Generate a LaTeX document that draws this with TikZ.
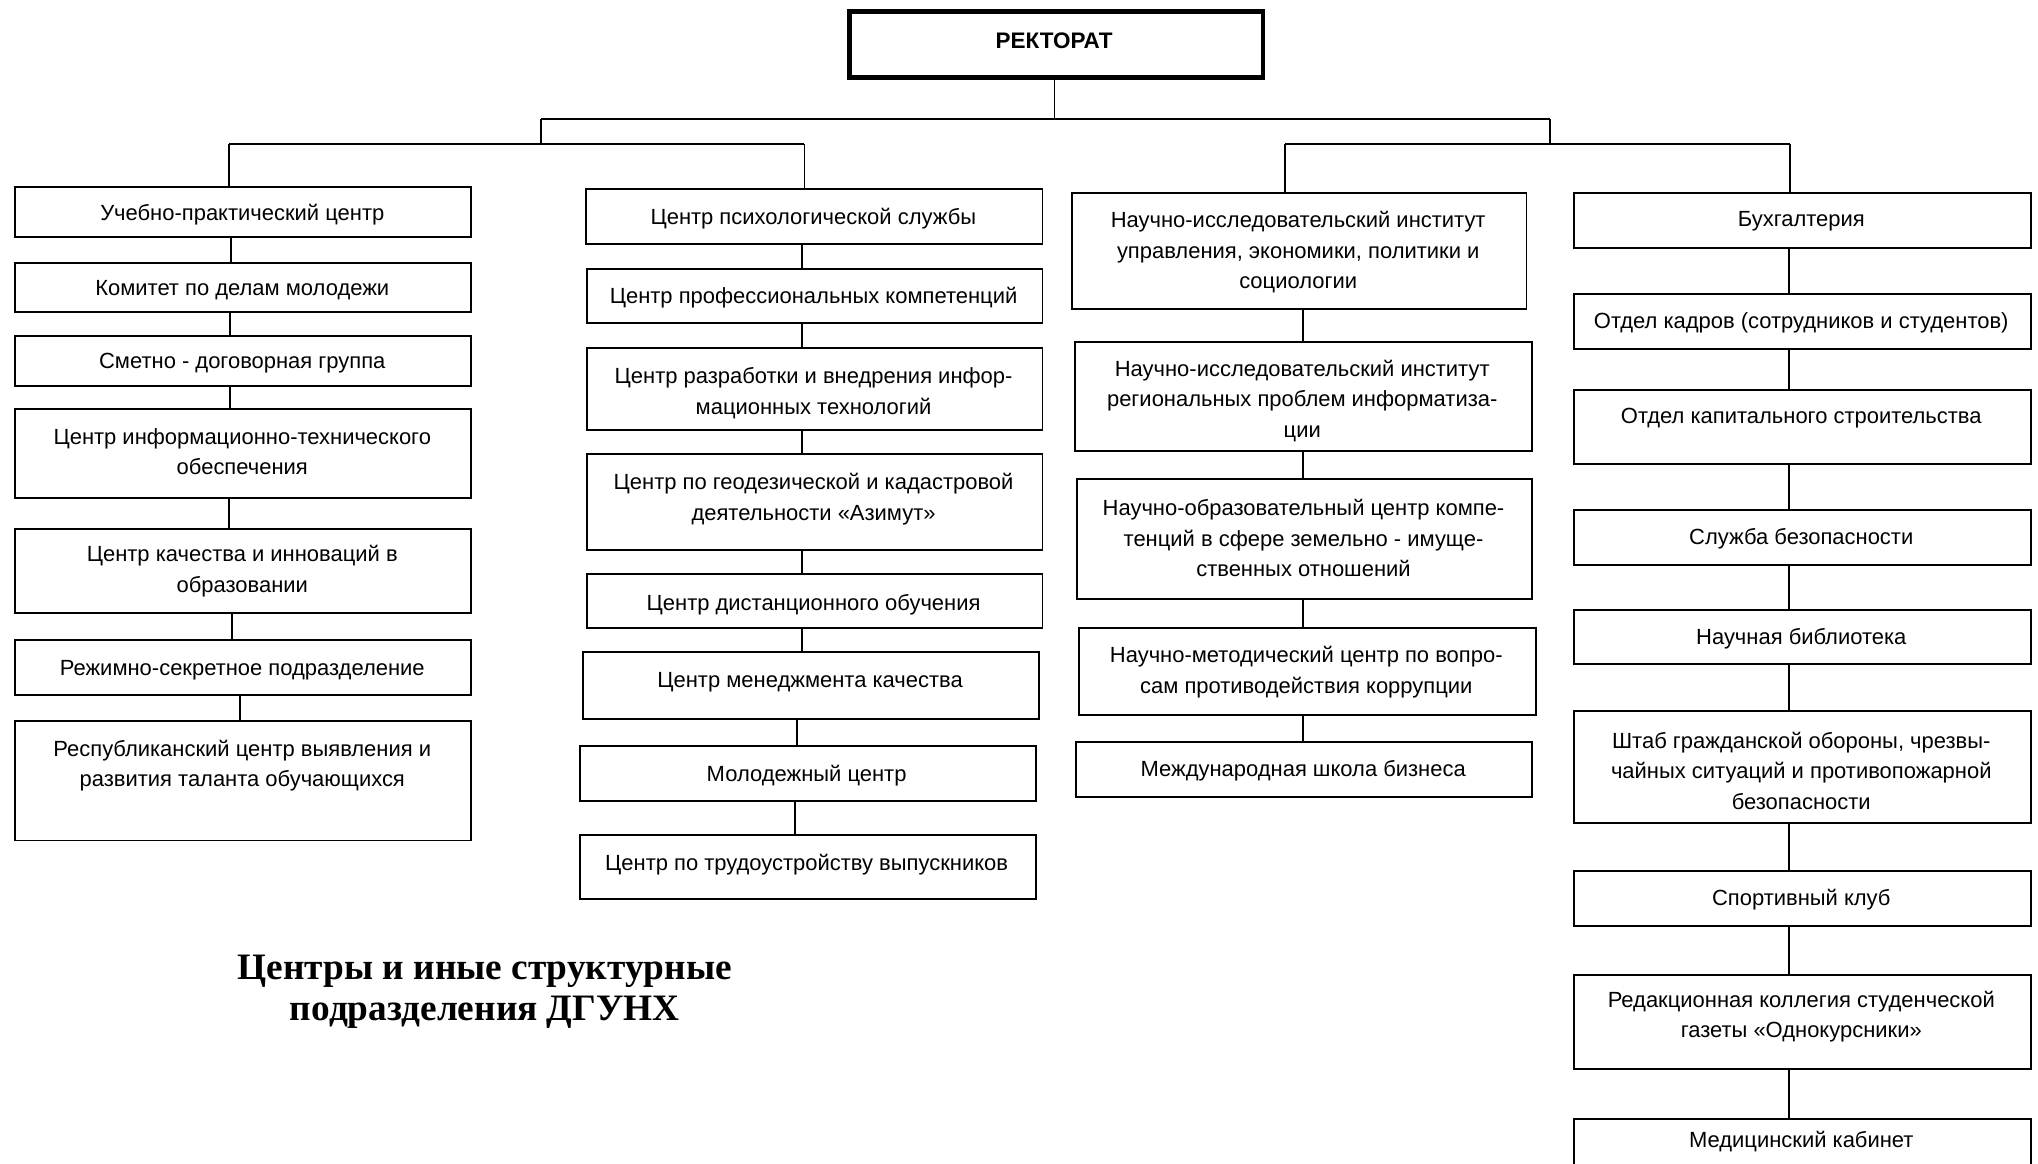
\documentclass[tikz,border=0pt]{standalone}
\usepackage{fontspec}
\setmainfont{Liberation Sans}
\newfontfamily\titlefont{Liberation Serif}
\tikzset{
  ubx/.style={draw, line width=1.5pt, inner sep=0pt, fill=white},
  rekbx/.style={draw, line width=3.5pt, inner sep=0pt},
  utx/.style={align=center, inner sep=0pt, font=\fontsize{16.9}{23.5}\selectfont},
  conn/.style={line width=1.5pt},
  thinconn/.style={line width=0.9pt}
}
% name, x1, y1, x2, y2, text y, text
\newcommand\orgbox[7]{%
  \node[ubx, anchor=north west, minimum width={(#4-#2)*1pt}, minimum height={(#5-#3)*1pt}] (#1) at (#2,#3) {};
  \node[utx] (#1t) at ({(#2+#4)/2},{#6+2}) {#7};
}
\begin{document}
\begin{tikzpicture}[x=1pt,y=-1pt]
\clip (0,0) rectangle (1568,895);
\fill[white] (0,0) rectangle (1568,895);

% Rectorate
\node[rekbx, anchor=north west, minimum width=318pt, minimum height=51pt] (rek) at (652,7) {};
\node[font=\fontsize{17.3}{20}\selectfont\bfseries, inner sep=0pt] (rekt) at (811,31) {РЕКТОРАТ};

% Column 1
\orgbox{a1}{11}{142.8}{361.8}{181.3}{163}{Учебно-практический центр}
\orgbox{a2}{11}{201.3}{361.8}{239.6}{221}{Комитет по делам молодежи}
\orgbox{a3}{11}{257.8}{361.8}{296.2}{277.5}{Сметно - договорная группа}
\orgbox{a4}{11}{314}{361.8}{382.3}{345.5}{Центр информационно-технического\\обеспечения}
\orgbox{a5}{11}{405.9}{361.8}{470.7}{437.5}{Центр качества и инноваций в\\образовании}
\orgbox{a6}{11}{491.9}{361.8}{534}{513.5}{Режимно-секретное подразделение}
\orgbox{a7}{11}{553.7}{361.8}{645.9}{587}{Республиканский центр выявления и\\развития таланта обучающихся}

% Column 2
\orgbox{b1}{450.2}{144.9}{801.3}{187.2}{166.5}{Центр психологической службы}
\orgbox{b2}{450.6}{205.9}{801.3}{247.8}{227}{Центр профессиональных компетенций}
\orgbox{b3}{450.6}{267}{801.3}{330.3}{300.5}{Центр разработки и внедрения инфор-\\мационных технологий}
\orgbox{b4}{450.6}{348.5}{801.3}{422.7}{382}{Центр по геодезической и кадастровой\\деятельности «Азимут»}
\orgbox{b5}{450.6}{441.2}{801.3}{482.4}{463}{Центр дистанционного обучения}
\orgbox{b6}{447.9}{501}{798.6}{552.2}{523}{Центр менеджмента качества}
\orgbox{b7}{445.2}{573}{796}{615.8}{595}{Молодежный центр}
\orgbox{b8}{445.2}{642}{796}{690.6}{663}{Центр по трудоустройству выпускников}

% Column 3
\orgbox{c1}{823.9}{147.4}{1173.7}{237.2}{192}{Научно-исследовательский институт\\управления, экономики, политики и\\социологии}
\orgbox{c2}{826.2}{262.3}{1177.6}{346.2}{306.5}{Научно-исследовательский институт\\региональных проблем информатиза-\\ции}
\orgbox{c3}{827.8}{367.7}{1178}{459.8}{412}{Научно-образовательный центр компе-\\тенций в сфере земельно - имуще-\\ственных отношений}
\orgbox{c4}{829.3}{482.5}{1180.7}{549.3}{515}{Научно-методический центр по вопро-\\сам противодействия коррупции}
\orgbox{c5}{827.3}{569.9}{1178}{612.6}{591}{Международная школа бизнеса}

% Column 4
\orgbox{d1}{1210.2}{147.4}{1561.5}{189.7}{168}{Бухгалтерия}
\orgbox{d2}{1210.2}{225.6}{1561.5}{267.5}{246}{Отдел кадров (сотрудников и студентов)}
\orgbox{d3}{1210.2}{299.4}{1561.5}{355.9}{320}{Отдел капитального строительства}
\orgbox{d4}{1210.2}{391.8}{1561.5}{433.9}{412.5}{Служба безопасности}
\orgbox{d5}{1210.2}{468.6}{1561.5}{510.4}{489.5}{Научная библиотека}
\orgbox{d6}{1210.2}{546.4}{1561.5}{632.6}{591}{Штаб гражданской обороны, чрезвы-\\чайных ситуаций и противопожарной\\безопасности}
\orgbox{d7}{1210.2}{669.2}{1561.5}{711.9}{690}{Спортивный клуб}
\orgbox{d8}{1210.2}{749.4}{1561.5}{822}{780}{Редакционная коллегия студенческой\\газеты «Однокурсники»}
\orgbox{d9}{1210.2}{860.3}{1561.5}{930}{876}{Медицинский кабинет}

% Title
\node[align=center, inner sep=0pt, font=\titlefont\bfseries\fontsize{28.7}{32}\selectfont] (title) at (373,763) {Центры и иные структурные\\подразделения ДГУНХ};

% Top-level connectors
\coordinate (j0) at (811.3,91.8);
\coordinate (j1) at (416.3,91.8);
\coordinate (j2) at (1192.2,91.8);
\coordinate (l1) at (176,110.8);
\coordinate (l2) at (618.8,110.8);
\coordinate (l0) at (416.3,110.8);
\coordinate (r1) at (988.8,110.8);
\coordinate (r2) at (1377.2,110.8);
\coordinate (r0) at (1192.2,110.8);
\draw[conn] (rek.south -| j0) -- (j0);
\draw[conn] (j1) -- (j2);
\draw[conn] (j1) -- (l0);
\draw[conn] (j2) -- (r0);
\draw[conn] (l1) -- (l2);
\draw[conn] (r1) -- (r2);
\draw[conn] (l1) -- (a1.north -| l1);
\draw[thinconn] (l2) -- (b1.north -| l2);
\draw[conn] (r1) -- (c1.north -| r1);
\draw[conn] (r2) -- (d1.north -| r2);

% Column 1 connectors
\draw[conn] (a1.south -| 177.4,0) -- (a2.north -| 177.4,0);
\draw[conn] (a2.south -| 177,0) -- (a3.north -| 177,0);
\draw[conn] (a3.south -| 177,0) -- (a4.north -| 177,0);
\draw[conn] (a4.south -| 176.5,0) -- (a5.north -| 176.5,0);
\draw[conn] (a5.south -| 178.6,0) -- (a6.north -| 178.6,0);
\draw[conn] (a6.south -| 184.6,0) -- (a7.north -| 184.6,0);

% Column 2 connectors
\draw[conn] (b1.south -| 616.8,0) -- (b2.north -| 616.8,0);
\draw[conn] (b2.south -| 616.8,0) -- (b3.north -| 616.8,0);
\draw[conn] (b3.south -| 616.8,0) -- (b4.north -| 616.8,0);
\draw[conn] (b4.south -| 616.8,0) -- (b5.north -| 616.8,0);
\draw[conn] (b5.south -| 616.8,0) -- (b6.north -| 616.8,0);
\draw[conn] (b6.south -| 613.5,0) -- (b7.north -| 613.5,0);
\draw[conn] (b7.south -| 611.4,0) -- (b8.north -| 611.4,0);

% Column 3 connectors
\foreach \u/\v in {c1/c2,c2/c3,c3/c4,c4/c5}
  \draw[conn] (\u.south -| 1002.5,0) -- (\v.north -| 1002.5,0);

% Column 4 connectors
\foreach \u/\v in {d1/d2,d2/d3,d3/d4,d4/d5,d5/d6,d6/d7,d7/d8,d8/d9}
  \draw[conn] (\u.south -| 1376.7,0) -- (\v.north -| 1376.7,0);
\end{tikzpicture}
\end{document}
